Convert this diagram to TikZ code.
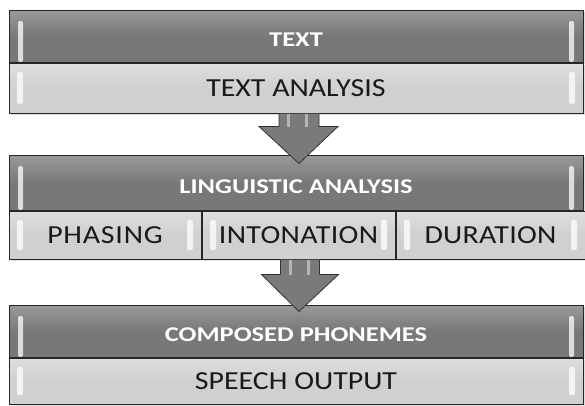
\documentclass[tikz,border=0pt]{standalone}
\usepackage{fontspec}
\setmainfont{Carlito}[FakeStretch=1.15]
\newfontfamily\headfont{Carlito}[FakeStretch=1.26]
\usetikzlibrary{positioning,calc,shadows}
\definecolor{headgray}{HTML}{787878}
\definecolor{headtop}{HTML}{9A9A9A}
\definecolor{cellgray}{HTML}{D0D0D0}
\definecolor{celltop}{HTML}{DEDEDE}
\tikzset{
  glint/.style={white,opacity=.75,rounded corners=2pt},
  headbox/.style={rectangle,draw=black!85,line width=1pt,inner sep=0pt,
    minimum width=574pt,minimum height=52pt,text height=21pt,text depth=0pt,
    top color=headtop,bottom color=headgray,middle color=headgray,
    text=white,font=\headfont\fontsize{21}{21}\selectfont\bfseries,
    drop shadow={opacity=.25,shadow xshift=1.5pt,shadow yshift=-1.5pt},
    path picture={
      \fill[glint] ([xshift=9pt,yshift=-11pt]path picture bounding box.north west)
        rectangle ([xshift=14pt]path picture bounding box.south west);
      \fill[glint] ([xshift=-9pt,yshift=-11pt]path picture bounding box.north east)
        rectangle ([xshift=-14pt]path picture bounding box.south east);
    }},
  cellbox/.style={rectangle,draw=black!85,line width=1pt,inner sep=0pt,
    minimum height=50pt,
    top color=celltop,bottom color=cellgray,middle color=cellgray,
    text=black!90,font=\fontsize{26}{26}\selectfont,
    drop shadow={opacity=.25,shadow xshift=1.5pt,shadow yshift=-1.5pt},
    path picture={
      \fill[glint] ([xshift=8pt,yshift=-9pt]path picture bounding box.north west)
        rectangle ([xshift=14pt,yshift=9pt]path picture bounding box.south west);
      \fill[glint] ([xshift=-8pt,yshift=-9pt]path picture bounding box.north east)
        rectangle ([xshift=-14pt,yshift=9pt]path picture bounding box.south east);
    }},
  spaced/.style={font=\addfontfeature{LetterSpace=#1}\fontsize{26}{26}\selectfont},
  flowarrow/.style={draw=black!80,line width=.8pt,
    left color=black!52,middle color=black!28,right color=black!52},
  stripe/.style={white,opacity=.45}
}

\begin{document}
\begin{tikzpicture}[x=1pt,y=-1pt]
\useasboundingbox (0,0) rectangle (585,405);
% first block
\node[headbox] (textH) at (296,36) {TEXT};
\node[cellbox,minimum width=574pt,below=0pt of textH] (textA) {TEXT ANALYSIS};
% second block
\node[headbox,minimum height=55pt] (lingH) at (296,182.5) {LINGUISTIC ANALYSIS};
\node[cellbox,spaced=3,minimum width=192pt,minimum height=48pt,below right=0pt of lingH.south west,anchor=north west] (phas) {PHASING};
\node[cellbox,spaced=1.5,minimum width=193pt,minimum height=48pt,right=0pt of phas] (inton) {INTONATION};
\node[cellbox,spaced=1,minimum width=189pt,minimum height=48pt,right=0pt of inton] (dur) {DURATION};
% third block
\node[headbox] (compH) at (296,331) {COMPOSED PHONEMES};
\node[cellbox,minimum width=574pt,minimum height=46pt,below=0pt of compH] (speech) {SPEECH OUTPUT};
% arrows between blocks
\draw[flowarrow] ($(textA.south)+(-17,0)$) -- ($(textA.south)+(-17,13)$)
  -- ($(textA.south)+(-37,13)$) -- ($(lingH.north)+(3,9)$)
  -- ($(textA.south)+(42,13)$) -- ($(textA.south)+(23,13)$)
  -- ($(textA.south)+(23,0)$);
\fill[stripe] ($(textA.south)+(-9,0)$) rectangle ($(textA.south)+(-6,13)$);
\fill[stripe] ($(textA.south)+(9,0)$) rectangle ($(textA.south)+(12,13)$);
\draw[flowarrow] ($(inton.south)+(-18,0)$) -- ($(inton.south)+(-18,15)$)
  -- ($(inton.south)+(-37,15)$) -- ($(compH.north)+(3,7)$)
  -- ($(inton.south)+(40,15)$) -- ($(inton.south)+(21,15)$)
  -- ($(inton.south)+(21,0)$);
\fill[stripe] ($(inton.south)+(-10,0)$) rectangle ($(inton.south)+(-7,15)$);
\fill[stripe] ($(inton.south)+(8,0)$) rectangle ($(inton.south)+(11,15)$);
\end{tikzpicture}
\end{document}
